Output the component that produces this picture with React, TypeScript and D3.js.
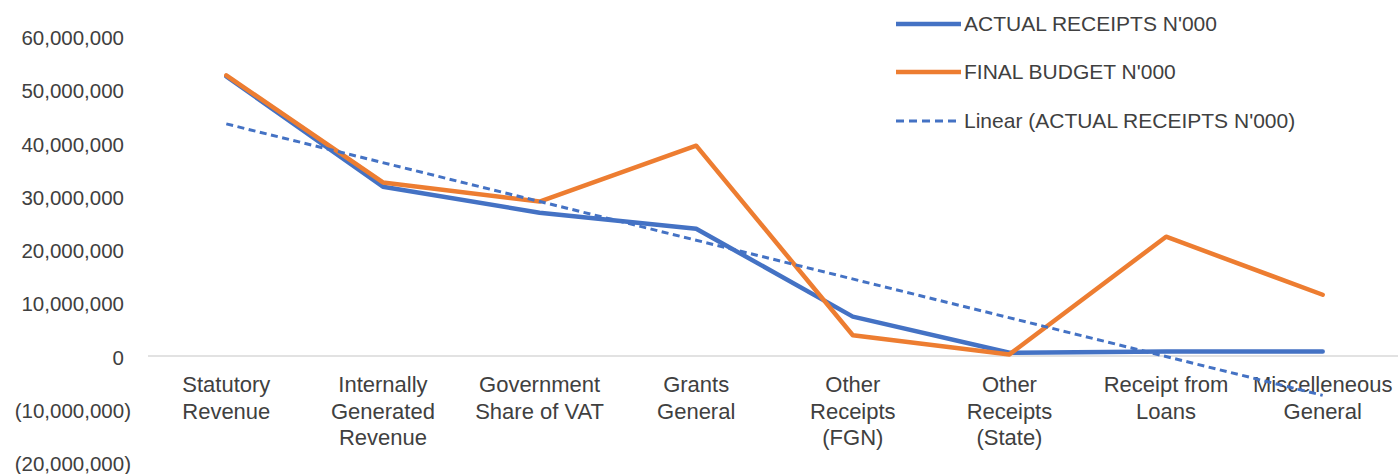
import React from "react";
import * as d3 from "d3";

const categories: string[][] = [
  ["Statutory", "Revenue"],
  ["Internally", "Generated", "Revenue"],
  ["Government", "Share of VAT"],
  ["Grants", "General"],
  ["Other", "Receipts", "(FGN)"],
  ["Other", "Receipts", "(State)"],
  ["Receipt from", "Loans"],
  ["Miscelleneous", "General"],
];

const actualReceipts: number[] = [
  52500000, 31800000, 26900000, 23900000, 7400000, 600000, 850000, 850000,
];
const finalBudget: number[] = [
  52700000, 32600000, 29000000, 39500000, 3900000, 300000, 22400000, 11500000,
];
const yTicks: number[] = [
  60000000, 50000000, 40000000, 30000000, 20000000, 10000000, 0, -10000000, -20000000,
];
const legendLabels: string[] = [
  "ACTUAL RECEIPTS N'000",
  "FINAL BUDGET N'000",
  "Linear (ACTUAL RECEIPTS N'000)",
];

const W = 1398;
const H = 474;
const BLUE = "#4472C4";
const ORANGE = "#ED7D31";
const TEXT = "#404040";
const FONT = "'Liberation Sans', Arial, sans-serif";

export default function App() {
  const keys = categories.map((_, i) => String(i));
  const x = d3.scaleBand<string>().domain(keys).range([148, 1401]);
  const y = d3.scaleLinear().domain([-20000000, 60000000]).range([462.5, 36.5]);
  const cx = (i: number) => (x(String(i)) as number) + x.bandwidth() / 2;

  const line = d3
    .line<number>()
    .x((_, i) => cx(i))
    .y((d) => y(d));

  // linear trendline (least squares) of actual receipts
  const n = actualReceipts.length;
  const xs = actualReceipts.map((_, i) => i + 1);
  const mx = d3.mean(xs) as number;
  const my = d3.mean(actualReceipts) as number;
  let sxy = 0;
  let sxx = 0;
  xs.forEach((xv, i) => {
    sxy += (xv - mx) * (actualReceipts[i] - my);
    sxx += (xv - mx) * (xv - mx);
  });
  const slope = sxy / sxx;
  const intercept = my - slope * mx;
  const trend = [intercept + slope * 1, intercept + slope * n];

  const fmt = (v: number) => {
    const s = d3.format(",")(Math.abs(v));
    return v < 0 ? `(${s})` : s;
  };

  const legendY = [24, 72, 121];

  return (
    <div style={{ position: "absolute", left: 0, top: 0 }}>
      <svg width={W} height={H} style={{ display: "block", background: "#fff" }} fontFamily={FONT}>
        {/* y-axis labels */}
        {yTicks.map((t) => (
          <text
            key={t}
            x={t < 0 ? 131 : 124}
            y={y(t) + 1.5}
            dy="0.35em"
            textAnchor="end"
            fontSize={20.5}
            fill={TEXT}
          >
            {fmt(t)}
          </text>
        ))}
        {/* zero line */}
        <line x1={148} x2={1398} y1={y(0)} y2={y(0)} stroke="#d9d9d9" strokeWidth={1.5} />
        {/* category labels */}
        {categories.map((lines, i) => (
          <text key={i} x={cx(i)} y={392} textAnchor="middle" fontSize={22} fill={TEXT}>
            {lines.map((l, j) => (
              <tspan key={j} x={cx(i)} dy={j === 0 ? 0 : 26.5}>
                {l}
              </tspan>
            ))}
          </text>
        ))}
        {/* series */}
        <path
          d={line(actualReceipts) as string}
          fill="none"
          stroke={BLUE}
          strokeWidth={4.5}
          strokeLinejoin="round"
          strokeLinecap="round"
        />
        <path
          d={line(finalBudget) as string}
          fill="none"
          stroke={ORANGE}
          strokeWidth={4.5}
          strokeLinejoin="round"
          strokeLinecap="round"
        />
        <line
          x1={cx(0)}
          x2={cx(n - 1)}
          y1={y(trend[0])}
          y2={y(trend[1])}
          stroke={BLUE}
          strokeWidth={3}
          strokeDasharray="7,4.5"
        />
        {/* legend */}
        {legendLabels.map((lab, i) => (
          <g key={lab}>
            <line
              x1={896}
              x2={961}
              y1={legendY[i]}
              y2={legendY[i]}
              stroke={i === 1 ? ORANGE : BLUE}
              strokeWidth={i === 2 ? 3 : 4.5}
              strokeDasharray={i === 2 ? "8,5" : undefined}
            />
            <text x={964} y={legendY[i]} dy="0.35em" fontSize={21} fill={TEXT}>
              {lab}
            </text>
          </g>
        ))}
      </svg>
    </div>
  );
}
